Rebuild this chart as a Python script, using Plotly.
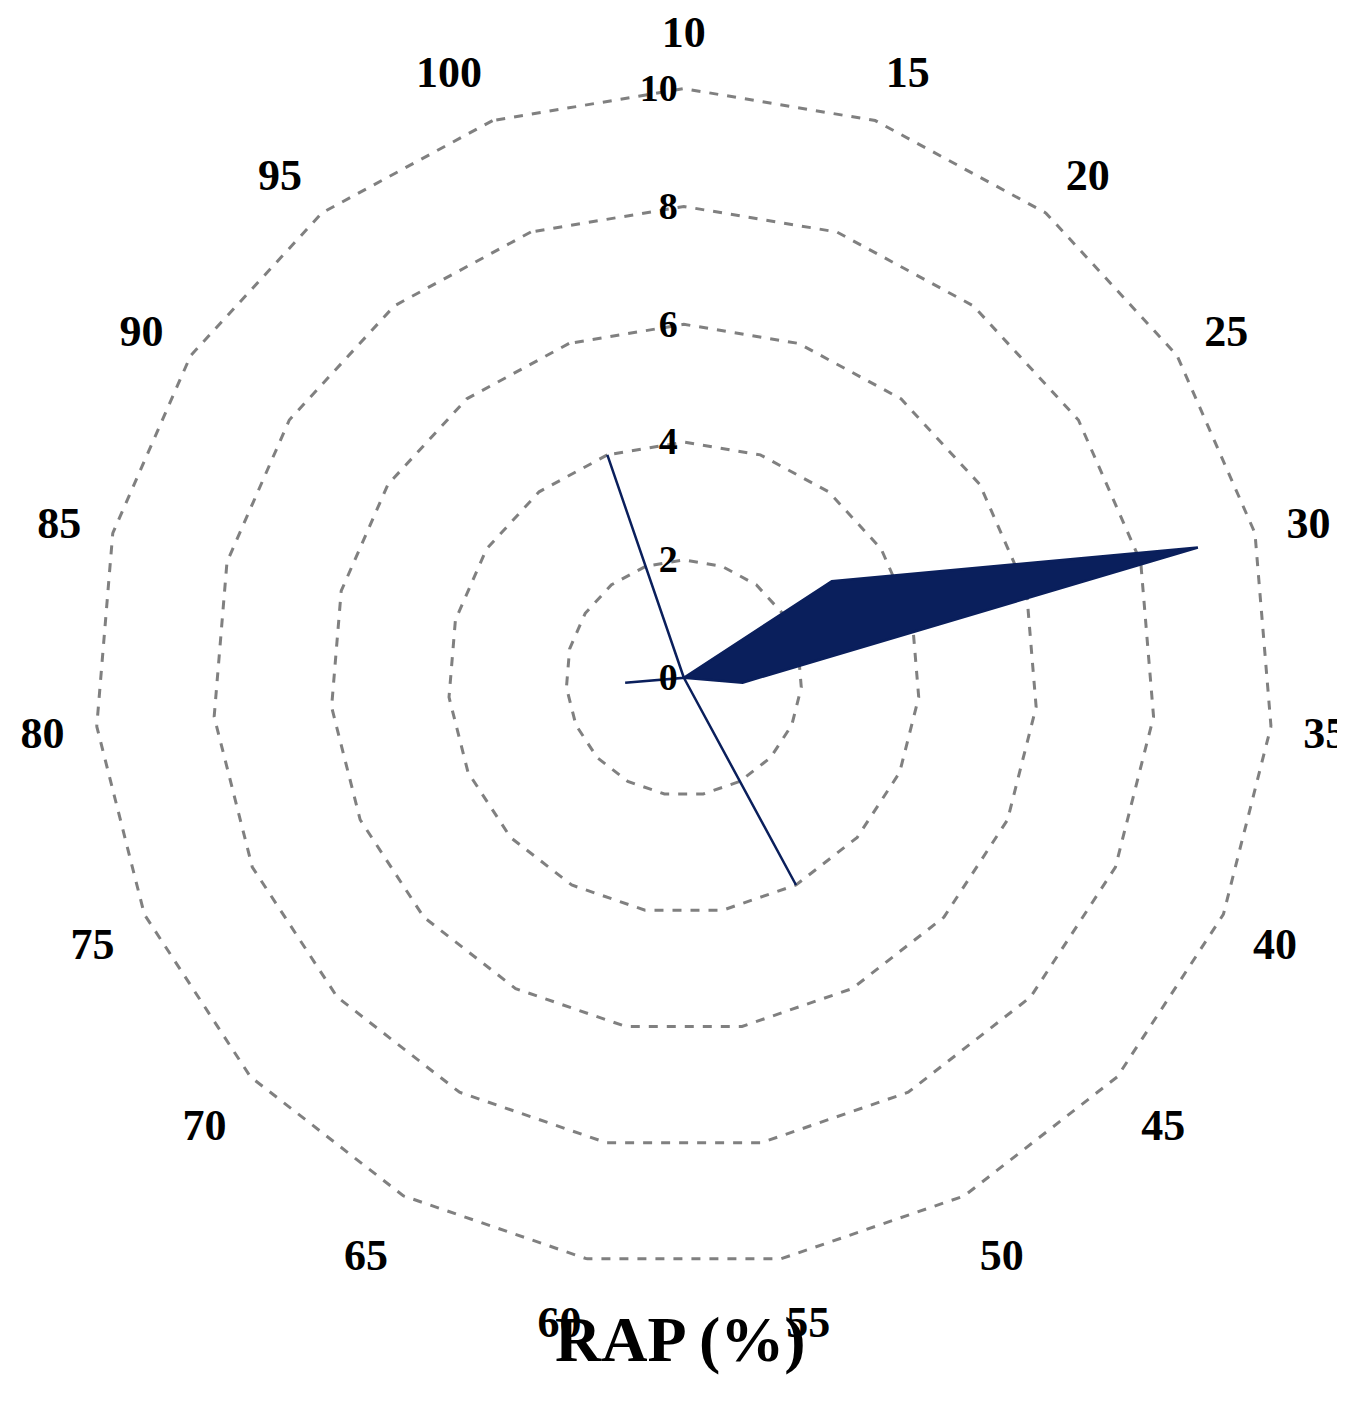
import plotly.graph_objects as go

categories = ["10","15","20","25","30","35","40","45","50","55","60","65","70","75","80","85","90","95","100"]
values = [0,0,0,3,9,1,0,0,4,0,0,0,0,0,1,0,0,0,4]
radial_ticks = [0,2,4,6,8,10]

fig = go.Figure(go.Scatterpolar(
    r=values+[values[0]], theta=categories+[categories[0]],
    mode="lines", fill="toself", fillcolor="#0a1f5c",
    line=dict(color="#0a1f5c", width=2.5)))

font = "Times New Roman, Liberation Serif, serif"
fig.update_layout(
    width=1345, height=1419, margin=dict(l=0, r=0, t=0, b=0),
    paper_bgcolor="white", showlegend=False,
    font=dict(family=font, color="black"),
    polar=dict(
        domain=dict(x=[0.062, 0.943], y=[0.112, 0.944]),
        gridshape="linear", bgcolor="white",
        angularaxis=dict(direction="clockwise", rotation=90, showline=False,
                         showgrid=False, ticks="outside", ticklen=22, tickcolor="white",
                         tickfont=dict(size=44, family=font, weight="bold")),
        radialaxis=dict(range=[0, 10.02], tickvals=radial_ticks, angle=90, tickangle=90,
                        side="counterclockwise",
                        showline=False, ticks="", griddash="dash", gridcolor="#808080",
                        gridwidth=2.5, tickfont=dict(size=38, family=font, weight="bold")),
    ),
    annotations=[dict(text="<b>RAP (%)</b>", x=0.5, y=0.035, xref="paper", yref="paper",
                      showarrow=False, font=dict(size=64, family=font))],
)
fig.write_html("out.html")
